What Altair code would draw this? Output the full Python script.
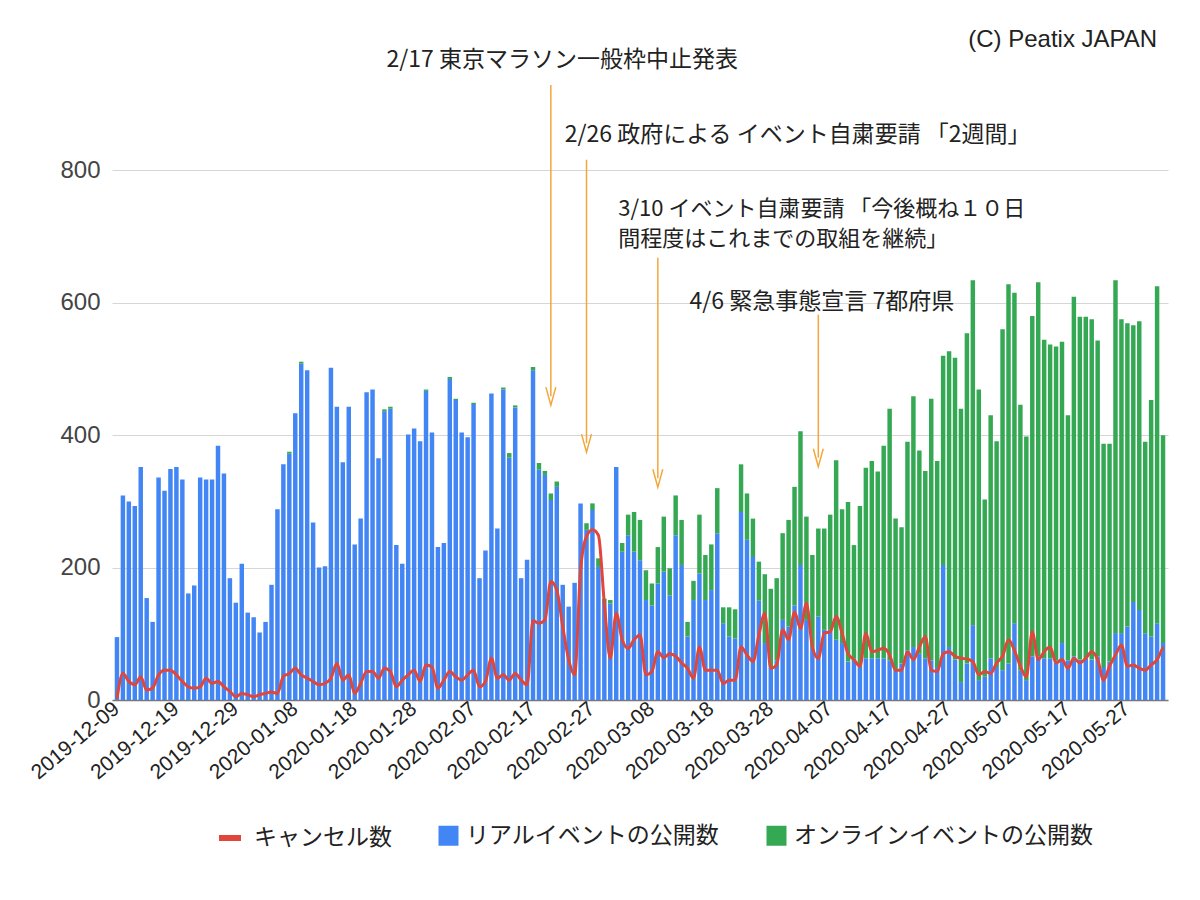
import altair as alt
import pandas as pd

# ---------------- data ----------------
real = [95, 309, 300, 293, 352, 154, 118, 336, 316, 349, 352, 333, 161, 173, 336, 333, 333,
        384, 342, 184, 147, 206, 132, 125, 102, 118, 174, 288, 356, 372, 433, 508, 498, 268, 200,
        202, 502, 443, 359, 443, 235, 274, 465, 469, 365, 436, 440, 234, 206, 401, 410, 391, 467,
        404, 231, 237, 485, 453, 404, 397, 447, 184, 226, 463, 259, 469, 366, 442, 184, 212, 498,
        348, 340, 302, 322, 174, 141, 177, 297, 257, 287, 201, 148, 146, 352, 224, 249, 224, 211,
        151, 143, 176, 194, 158, 249, 204, 96, 151, 191, 151, 166, 252, 116, 96, 93, 284, 242,
        216, 150, 86, 50, 60, 121, 111, 143, 204, 121, 80, 126, 106, 106, 91, 86, 58,
        63, 50, 63, 63, 63, 63, 60, 45, 55, 75, 80, 70, 63, 60, 50, 204, 80, 61,
        27, 55, 113, 30, 35, 63, 50, 45, 55, 116, 45, 30, 66, 66, 63, 63, 60, 86,
        60, 66, 61, 63, 61, 66, 50, 58, 101, 101, 111, 148, 136, 101, 96, 116, 86]

online = [0, 0, 0, 0, 0, 0, 0, 0, 0, 0, 0, 0, 0, 0, 0, 0, 0,
          0, 0, 0, 0, 0, 0, 0, 0, 0, 0, 0, 0, 3, 0, 3, 0, 0, 0,
          0, 0, 0, 0, 0, 0, 0, 0, 0, 0, 3, 3, 0, 0, 0, 0, 0, 2,
          0, 0, 0, 3, 2, 0, 0, 2, 0, 0, 0, 0, 3, 7, 3, 0, 0, 5,
          10, 6, 10, 8, 0, 0, 0, 0, 10, 10, 13, 5, 5, 0, 13, 31, 60, 61,
          45, 33, 55, 83, 41, 60, 68, 22, 29, 89, 68, 69, 68, 24, 44, 44, 72, 70,
          58, 59, 104, 118, 124, 131, 161, 179, 202, 156, 139, 133, 153, 174, 271, 202, 241,
          171, 243, 288, 298, 282, 321, 380, 229, 206, 315, 379, 307, 283, 395, 311, 316, 447, 456,
          413, 499, 521, 439, 268, 367, 341, 515, 573, 499, 401, 368, 514, 565, 481, 474, 474, 455,
          370, 543, 518, 516, 514, 477, 337, 329, 533, 474, 458, 418, 436, 289, 357, 509, 314]

cancel = [2, 40, 28, 23, 35, 15, 18, 38, 45, 45, 38, 28, 20, 18, 20, 33, 25,
          28, 20, 13, 5, 10, 8, 5, 8, 10, 12, 10, 36, 40, 48, 38, 33, 28, 23,
          25, 33, 55, 30, 38, 10, 25, 43, 43, 33, 48, 43, 20, 30, 38, 45, 28, 53,
          50, 18, 30, 43, 35, 30, 38, 45, 20, 28, 63, 33, 38, 30, 40, 30, 23, 120,
          116, 121, 179, 166, 111, 61, 38, 196, 247, 257, 249, 146, 63, 131, 91, 78, 91, 98,
          38, 43, 73, 64, 70, 66, 56, 48, 33, 80, 45, 45, 45, 25, 30, 30, 80, 68,
          58, 98, 131, 48, 53, 106, 91, 133, 108, 146, 80, 63, 101, 103, 126, 101, 70,
          61, 51, 101, 73, 75, 78, 68, 45, 45, 73, 61, 80, 96, 45, 43, 70, 73, 66,
          63, 62, 58, 38, 43, 40, 56, 66, 91, 75, 51, 35, 103, 61, 73, 80, 56, 61,
          48, 63, 56, 63, 73, 61, 30, 51, 68, 83, 51, 53, 48, 45, 53, 61, 80]

tick_labels = ["2019-12-09", "2019-12-19", "2019-12-29", "2020-01-08", "2020-01-18",
               "2020-01-28", "2020-02-07", "2020-02-17", "2020-02-27", "2020-03-08",
               "2020-03-18", "2020-03-28", "2020-04-07", "2020-04-17", "2020-04-27",
               "2020-05-07", "2020-05-17", "2020-05-27"]

real_name = "リアルイベントの公開数"
online_name = "オンラインイベントの公開数"
cancel_name = "キャンセル数"

# single-line annotations (anchored to day index / value)
ann_text = ["2/17 東京マラソン一般枠中止発表",
            "2/26 政府による イベント自粛要請 「2週間」",
            "4/6 緊急事態宣言 7都府県"]
ann_day = [45, 75, 96]
ann_value = [967, 853, 601]

# two-line annotation (top of first line)
ann2_text = ["3/10 イベント自粛要請 「今後概ね１０日\n間程度はこれまでの取組を継続」"]
ann2_day = [84]
ann2_value = [757]

arrow_day = [73, 79, 91, 118]
arrow_top = [929, 816, 668, 582]
arrow_tip = [459, 388, 335, 366]

copyright_text = ["(C) Peatix JAPAN"]
copyright_day = [174]
copyright_value = [997]

# ---------------- tables ----------------
dates = list(pd.date_range("2019-12-09", periods=len(real)).strftime("%Y-%m-%d"))

bars_df = pd.DataFrame(
    [{"date": d, "series": real_name, "value": r, "ord": 0} for d, r in zip(dates, real)]
    + [{"date": d, "series": online_name, "value": o, "ord": 1} for d, o in zip(dates, online)]
)
line_df = pd.DataFrame({"date": dates, "value": cancel, "s": cancel_name})
ann_df = pd.DataFrame({"date": [dates[i] for i in ann_day], "value": ann_value, "text": ann_text})
ann2_df = pd.DataFrame({"date": [dates[i] for i in ann2_day], "value": ann2_value,
                        "text": ann2_text})
arrow_df = pd.DataFrame({"date": [dates[i] for i in arrow_day], "top": arrow_top, "tip": arrow_tip})
copy_df = pd.DataFrame({"date": [dates[i] for i in copyright_day], "value": copyright_value,
                        "text": copyright_text})

BLUE = "#4285f4"
GREEN = "#34a853"
RED = "#e0463a"
ORANGE = "#f3a73b"
JP = "Noto Sans CJK JP"

x_enc = alt.X("date:O", scale=alt.Scale(domain=dates, paddingInner=0.25, paddingOuter=0.46),
              axis=alt.Axis(values=tick_labels, title=None, labelAngle=-40, labelFontSize=21,
                            labelFont="Liberation Sans", labelColor="#222", ticks=False,
                            labelPadding=6, domainColor="#777", domainWidth=1.5,
                            labelAlign="right", labelBaseline="middle"))
y_scale = alt.Scale(domain=[0, 1000], nice=False)
y_axis = alt.Axis(values=[0, 200, 400, 600, 800], title=None, domain=False, ticks=False,
                  labelFontSize=24, labelFont="Liberation Sans", labelColor="#444",
                  labelPadding=12, gridColor="#d6d6d6")

bars = alt.Chart(bars_df).mark_bar().encode(
    x=x_enc,
    y=alt.Y("value:Q", stack="zero", scale=y_scale, axis=y_axis),
    color=alt.Color("series:N",
                    scale=alt.Scale(domain=[real_name, online_name], range=[BLUE, GREEN]),
                    legend=alt.Legend(orient="none", legendX=325, legendY=786,
                                      direction="horizontal", title=None,
                                      symbolType="square", symbolSize=400,
                                      symbolStrokeWidth=0, labelFontSize=23, labelFont=JP,
                                      labelColor="#222", columnPadding=46, labelOffset=6,
                                      labelLimit=600)),
    order=alt.Order("ord:Q"),
)

line = alt.Chart(line_df).mark_line(strokeWidth=3, interpolate="monotone").encode(
    x=alt.X("date:O"),
    y=alt.Y("value:Q"),
    stroke=alt.Stroke("s:N", scale=alt.Scale(domain=[cancel_name], range=[RED]),
                      legend=alt.Legend(orient="none", legendX=104, legendY=786,
                                        title=None, symbolType="stroke", symbolSize=484,
                                        symbolStrokeWidth=6, labelFontSize=23, labelFont=JP,
                                        labelColor="#222", labelOffset=10, labelLimit=600)),
)

rules = alt.Chart(arrow_df).mark_rule(color=ORANGE, strokeWidth=1.5).encode(
    x=alt.X("date:O"), y=alt.Y("top:Q"), y2=alt.Y2("tip"))

heads = alt.Chart(arrow_df).mark_point(
    shape="M -0.55 -1 L 0 1 L 0.55 -1", filled=False, color=ORANGE, size=324,
    strokeWidth=1.5, opacity=1).encode(x=alt.X("date:O"), y=alt.Y("tip:Q"))

texts = alt.Chart(ann_df).mark_text(align="left", baseline="middle", fontSize=23, font=JP,
                                    color="#222", dx=2).encode(
    x=alt.X("date:O"), y=alt.Y("value:Q"), text="text:N")

texts2 = alt.Chart(ann2_df).mark_text(align="left", baseline="top", fontSize=22, font=JP,
                                      color="#222", dx=2, lineBreak="\n",
                                      lineHeight=30).encode(
    x=alt.X("date:O"), y=alt.Y("value:Q"), text="text:N")

copy = alt.Chart(copy_df).mark_text(align="right", baseline="middle", fontSize=24,
                                    font="Liberation Sans", color="#222", dx=6).encode(
    x=alt.X("date:O"), y=alt.Y("value:Q"), text="text:N")

chart = alt.layer(bars, line, rules, heads, texts, texts2, copy).properties(
    width=1056, height=662,
    padding={"left": 112, "top": 38, "right": 32, "bottom": 200},
    autosize=alt.AutoSizeParams(type="none"),
    background="white",
).configure_view(stroke=None)

chart.save("out.html", embed_options={"renderer": "svg", "actions": False})
